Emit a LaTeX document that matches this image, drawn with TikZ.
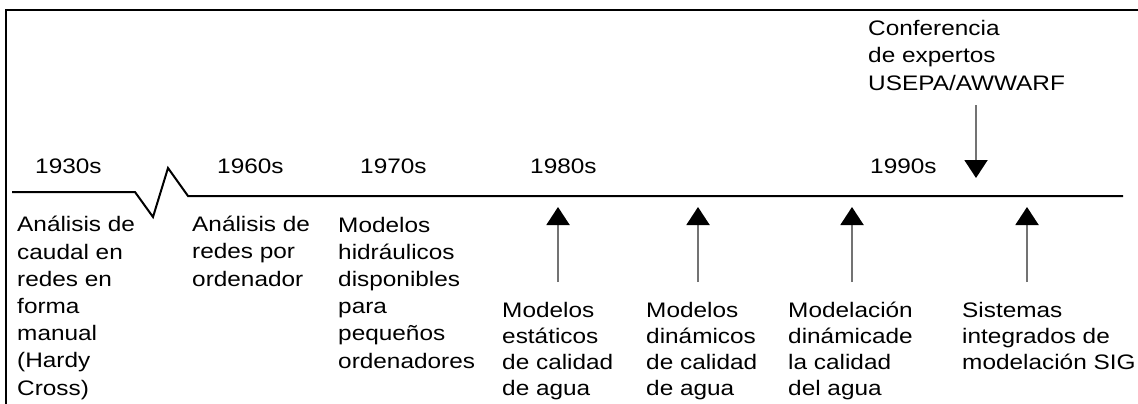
\documentclass[tikz,border=0pt]{standalone}
\usepackage{fontspec}
\setmainfont{Liberation Sans}
\usetikzlibrary{arrows.meta}

\begin{document}
\begin{tikzpicture}[x=1pt,y=-1pt,
  txt/.style={anchor=base west, inner sep=0pt, align=left, xscale=1.16, font=\fontsize{21}{27.2}\selectfont},
  lowtxt/.style={txt, font=\fontsize{21}{26}\selectfont},
  pointer/.style={draw=black!55, line width=2pt, -{Triangle[width=23pt,length=18pt,color=black]}}]
\useasboundingbox (0,0) rectangle (1138,404);
\draw[line width=1.5pt] (6,404) -- (6,10) -- (1138,10);
\draw[line width=2pt] (12,192) -- (135,192) -- (153,217) -- (168,168) -- (188,196) -- (1123,196);

\node[txt] (y1930) at (35,173) {1930s};
\node[txt] (y1960) at (217,173) {1960s};
\node[txt] (y1970) at (360,173) {1970s};
\node[txt] (y1980) at (530,173) {1980s};
\node[txt] (y1990) at (870,173) {1990s};

\node[txt] (manual) at (17,395) {Análisis de\\caudal en\\redes en\\forma\\manual\\(Hardy\\Cross)};
\node[txt] (ordenador) at (192,286) {Análisis de\\redes por\\ordenador};
\node[txt] (hidraulicos) at (338,368) {Modelos\\hidráulicos\\disponibles\\para\\pequeños\\ordenadores};

\node[txt] (conferencia) at (868,90) {Conferencia\\de expertos\\USEPA/AWWARF};

\node[lowtxt] (estaticos) at (502,395) {Modelos\\estáticos\\de calidad\\de agua};
\node[lowtxt] (dinamicos) at (646,395) {Modelos\\dinámicos\\de calidad\\de agua};
\node[lowtxt] (modelacion) at (788,395) {Modelación\\dinámicade\\la calidad\\del agua};
\node[lowtxt] (sig) at (962,369) {Sistemas\\integrados de\\modelación SIG};

\coordinate (c1) at (976,105);
\coordinate (c2) at (976,178);
\coordinate (e1) at (558,282);
\coordinate (e2) at (558,207);
\coordinate (d1) at (698,282);
\coordinate (d2) at (698,207);
\coordinate (m1) at (852,282);
\coordinate (m2) at (852,207);
\coordinate (s1) at (1027,282);
\coordinate (s2) at (1027,207);

\draw[pointer] (c1) -- (c2);
\draw[pointer] (e1) -- (e2);
\draw[pointer] (d1) -- (d2);
\draw[pointer] (m1) -- (m2);
\draw[pointer] (s1) -- (s2);
\end{tikzpicture}
\end{document}
